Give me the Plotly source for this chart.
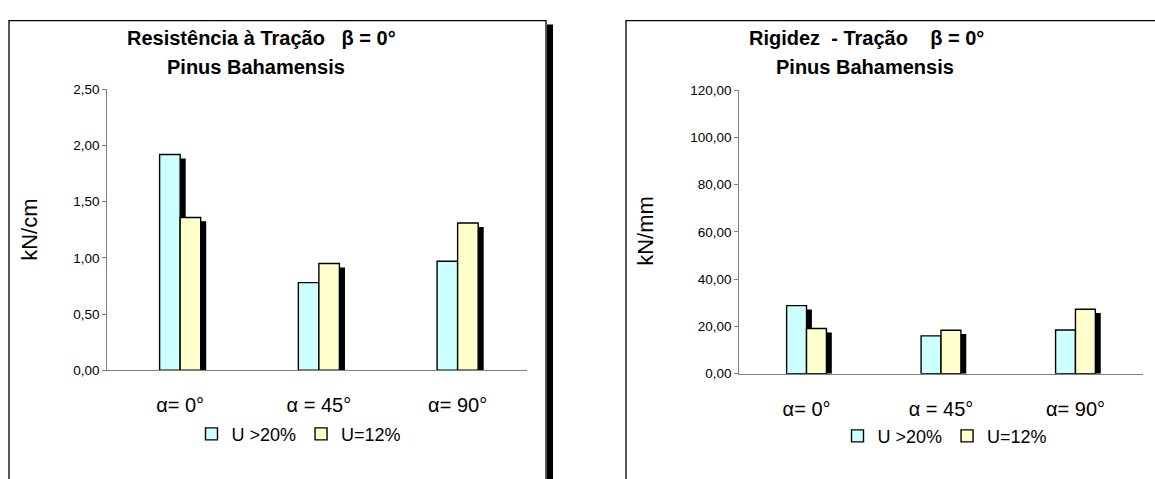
import plotly.graph_objects as go

# ---------------- data ----------------
categories = ["α= 0°", "α = 45°", "α= 90°"]
series_names = ["U >20%", "U=12%"]

resist_u20 = [1.92, 0.78, 0.97]
resist_u12 = [1.36, 0.95, 1.31]

rigid_u20 = [28.8, 16.0, 18.5]
rigid_u12 = [19.1, 18.4, 27.3]

title_left = ["Resistência à Tração\u00a0\u00a0\u00a0β = 0°", "Pinus Bahamensis"]
title_right = ["Rigidez\u00a0\u00a0- Tração\u00a0\u00a0\u00a0\u00a0β = 0°", "Pinus Bahamensis"]
ytitle_left = "kN/cm"
ytitle_right = "kN/mm"

# ---------------- style ----------------
W, H = 1155, 479
FONT = "Liberation Sans, Arial, sans-serif"
CYAN = "#CCFFFF"
YELLOW = "#FFFFCC"
BAR_W = 0.148
SHADOW_DX = 0.04      # in category units
SHADOW_DY = 0.0138    # fraction of y range
AXIS_COL = "#808080"


def px(x):
    return x / W


def py(y):
    return 1 - y / H


fig = go.Figure()

charts = [
    dict(xa="x", ya="y", lg="legend", u20=resist_u20, u12=resist_u12, ymax=2.5),
    dict(xa="x2", ya="y2", lg="legend2", u20=rigid_u20, u12=rigid_u12, ymax=120),
]

for c in charts:
    dy = SHADOW_DY * c["ymax"]
    for vals, off in ((c["u20"], -BAR_W), (c["u12"], 0.0)):
        fig.add_bar(
            x=categories, y=[v - dy for v in vals], width=BAR_W, offset=off + SHADOW_DX,
            marker=dict(color="black", line=dict(width=0)),
            showlegend=False, hoverinfo="skip", xaxis=c["xa"], yaxis=c["ya"],
        )
    for vals, off, col, name in ((c["u20"], -BAR_W, CYAN, series_names[0]),
                                 (c["u12"], 0.0, YELLOW, series_names[1])):
        fig.add_bar(
            x=categories, y=vals, width=BAR_W, offset=off,
            marker=dict(color=col, line=dict(color="black", width=1.4)),
            name=name, legend=c["lg"], xaxis=c["xa"], yaxis=c["ya"],
        )

xcommon = dict(type="category", showline=True, linecolor=AXIS_COL, linewidth=1, ticks="",
               showgrid=False, zeroline=False, tickfont=dict(size=20, color="black", family=FONT),
               ticklabelstandoff=17, fixedrange=True)
ycommon = dict(showline=True, linecolor=AXIS_COL, linewidth=1, ticks="outside", ticklen=4,
               tickcolor=AXIS_COL, showgrid=False, zeroline=False, tickformat=".2f", tick0=0,
               tickfont=dict(size=13.5, color="black", family=FONT), fixedrange=True)

legcommon = dict(orientation="h", xanchor="center", yanchor="middle",
                 font=dict(size=18, color="black", family=FONT),
                 bgcolor="rgba(0,0,0,0)", traceorder="normal")

annotations = []
for lines, xs, in ((title_left, (261, 256)), (title_right, (866, 865))):
    for txt, x, y in zip(lines, xs, (32.5, 61.5)):
        annotations.append(dict(text="<b>" + txt + "</b>", x=px(x), y=py(y), xref="paper",
                                yref="paper", xanchor="center", yanchor="middle", showarrow=False,
                                font=dict(size=20, color="black", family=FONT)))
for txt, x, y in ((ytitle_left, 30, 230), (ytitle_right, 646, 231)):
    annotations.append(dict(text=txt, x=px(x), y=py(y), xref="paper", yref="paper",
                            xanchor="center", yanchor="middle", textangle=-90, showarrow=False,
                            font=dict(size=22, color="black", family=FONT)))

shapes = [
    dict(type="rect", xref="paper", yref="paper", x0=px(547), x1=px(553), y0=py(18), y1=py(520),
         fillcolor="black", line=dict(width=0), layer="below"),
    dict(type="rect", xref="paper", yref="paper", x0=px(9), x1=px(546), y0=py(14), y1=py(520),
         line=dict(color="black", width=1.3), layer="below"),
    dict(type="rect", xref="paper", yref="paper", x0=px(626), x1=px(1180), y0=py(14), y1=py(520),
         line=dict(color="black", width=1.3), layer="below"),
]

fig.update_layout(
    width=W, height=H, autosize=False,
    margin=dict(l=0, r=0, t=0, b=0, pad=0),
    paper_bgcolor="white", plot_bgcolor="rgba(0,0,0,0)",
    barmode="overlay", separators=",.",
    font=dict(family=FONT, color="black"),
    xaxis=dict(xcommon, domain=[px(107.3), px(527)], range=[-0.525, 2.5], anchor="y"),
    yaxis=dict(ycommon, domain=[py(375), py(85)], range=[0, 2.5], dtick=0.5, anchor="x"),
    xaxis2=dict(xcommon, domain=[px(739.3), px(1142.7)], range=[-0.5, 2.5], anchor="y2"),
    yaxis2=dict(ycommon, domain=[py(378.5), py(86)], range=[0, 120], dtick=20, anchor="x2"),
    legend=dict(legcommon, x=px(299), y=py(441)),
    legend2=dict(legcommon, x=px(945), y=py(443)),
    annotations=annotations,
    shapes=shapes,
    showlegend=True,
)

fig.write_html("out.html", config={"displayModeBar": False},
               post_script="document.body.style.margin='0';")
